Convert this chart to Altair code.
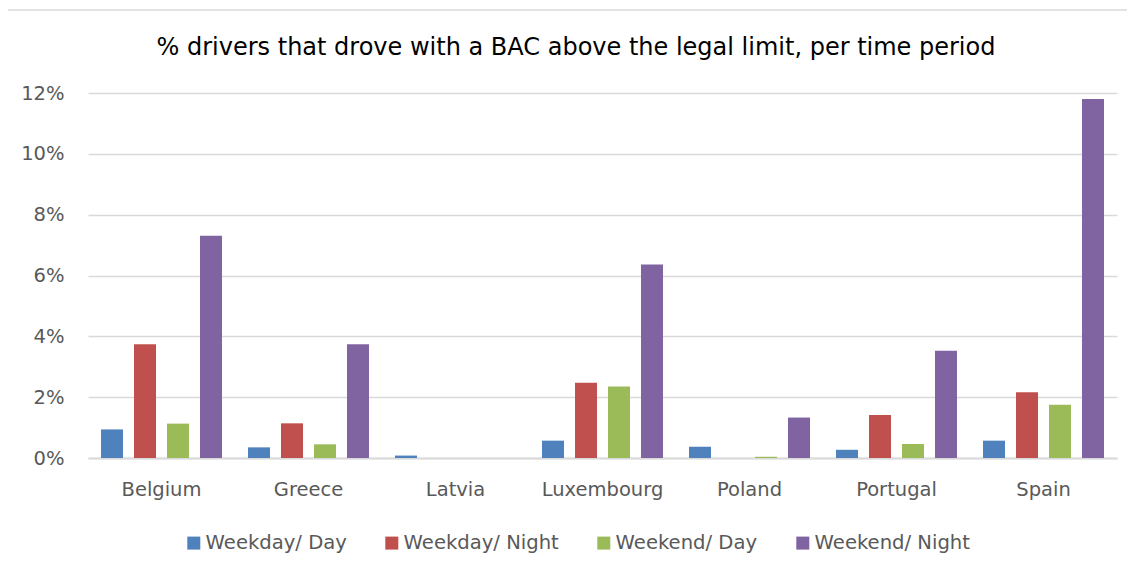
import altair as alt
import pandas as pd

title_text = "% drivers that drove with a BAC above the legal limit, per time period"
countries = ["Belgium", "Greece", "Latvia", "Luxembourg", "Poland", "Portugal", "Spain"]
series_names = ["Weekday/ Day", "Weekday/ Night", "Weekend/ Day", "Weekend/ Night"]
weekday_day = [0.94, 0.35, 0.08, 0.57, 0.37, 0.27, 0.57]
weekday_night = [3.74, 1.14, 0.0, 2.47, 0.0, 1.41, 2.16]
weekend_day = [1.13, 0.45, 0.0, 2.35, 0.04, 0.46, 1.75]
weekend_night = [7.31, 3.74, 0.0, 6.36, 1.33, 3.53, 11.80]
colors = ["#4F81BD", "#C0504D", "#9BBB59", "#8064A2"]
y_ticks = [0, 2, 4, 6, 8, 10, 12]

rows = []
for name, vals in zip(series_names, [weekday_day, weekday_night, weekend_day, weekend_night]):
    for c, v in zip(countries, vals):
        rows.append({"country": c, "period": name, "value": v / 100.0})
df = pd.DataFrame(rows)

FONT = "DejaVu Sans"
GRID = "#D9D9D9"
LABEL = "#595959"

bars = alt.Chart(df).mark_bar().encode(
    x=alt.X("country:N", sort=countries,
            scale=alt.Scale(paddingInner=0.177, paddingOuter=0.0885),
            axis=alt.Axis(title=None, labelAngle=0, ticks=False, domain=True,
                          domainColor=GRID, domainWidth=2,
                          labelPadding=22, labelFontSize=19.5, labelFont=FONT,
                          labelColor=LABEL, grid=False)),
    xOffset=alt.XOffset("period:N", sort=series_names,
                        scale=alt.Scale(paddingInner=0.3333, paddingOuter=0)),
    y=alt.Y("value:Q",
            scale=alt.Scale(domain=[0, 0.12], nice=False),
            axis=alt.Axis(title=None, values=[t / 100 for t in y_ticks], format=".0%",
                          ticks=False, domain=False, grid=True, gridColor=GRID,
                          gridWidth=1.5, labelPadding=24, labelFontSize=19.5,
                          labelFont=FONT, labelColor=LABEL)),
    color=alt.Color("period:N", sort=series_names,
                    scale=alt.Scale(domain=series_names, range=colors),
                    legend=alt.Legend(title=None, orient="none", direction="horizontal",
                                      legendX=96, legendY=440, symbolType="square",
                                      symbolSize=169, symbolStrokeWidth=0,
                                      labelFontSize=19.6, labelFont=FONT,
                                      labelColor=LABEL, labelOffset=2,
                                      columnPadding=35)),
)

title = alt.Chart(pd.DataFrame({"t": [title_text]})).mark_text(
    font=FONT, fontSize=24, color="#000000", align="center", baseline="alphabetic"
).encode(text="t:N", x=alt.value(488), y=alt.value(-38.5))

border = alt.Chart(pd.DataFrame({"d": [0]})).mark_rule(color=GRID, strokeWidth=1.5).encode(
    x=alt.value(-80), x2=alt.value(1040), y=alt.value(-83)
)

chart = alt.layer(border, title, bars).properties(
    width=1029, height=365,
    autosize=alt.AutoSizeParams(type="none"),
    padding={"left": 80, "top": 85, "right": 10, "bottom": 100},
    background="white",
).configure_view(stroke=None)

chart.save("out.html", embed_options={"renderer": "svg", "actions": False})
